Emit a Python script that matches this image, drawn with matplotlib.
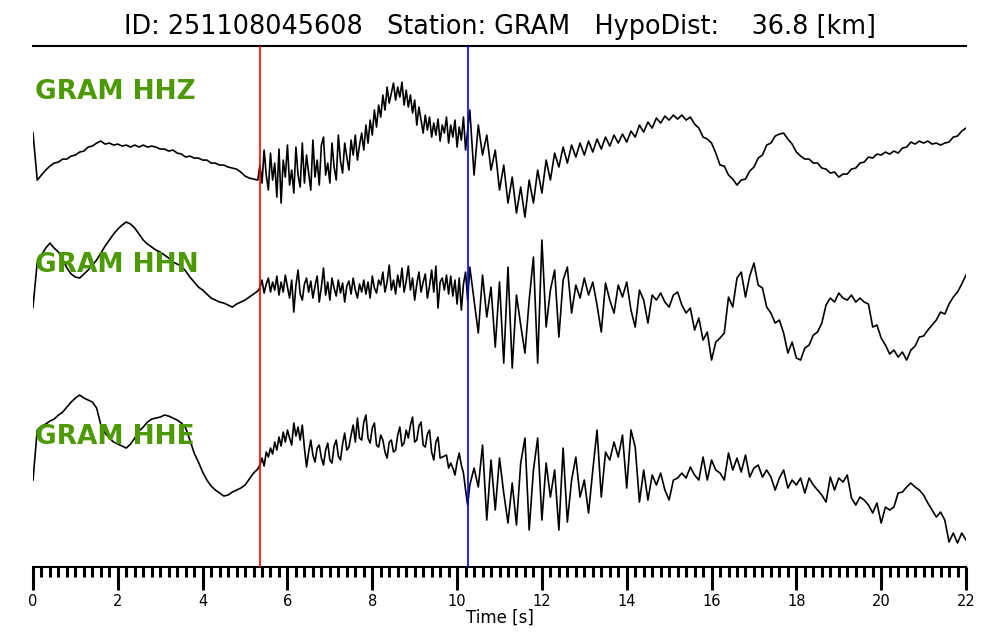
import numpy as np
import matplotlib
matplotlib.use("Agg")
import matplotlib.pyplot as plt
from matplotlib.ticker import MultipleLocator

# --- data (amplitude in display units) ---
event_id = "251108045608"
station = "GRAM"
hypo_dist = 36.8
channels = ["HHZ", "HHN", "HHE"]
p_pick = 5.35   # red
s_pick = 10.26  # blue

# each trace in three pieces: 0.0-5.3 s every 0.1 s, 5.35-10.30 s every 0.05 s,
# 10.4-22.0 s every 0.1 s
hhz_early = [
    22, -25, -20, -15, -11, -8, -7, -4, -4, -1,
    0, 3, 4, 8, 9, 12, 14, 11, 12, 10,
    11, 9, 10, 8, 10, 8, 10, 8, 9, 8,
    6, 6, 4, 5, 2, 1, -2, -1, -3, -3,
    -5, -5, -8, -8, -10, -10, -12, -13, -14, -17,
    -21, -23, -24, -25,
]
hhz_mid = [
    -10, -28, 5, -20, -35, 2, -25, -8, -42, 6,
    -48, -5, -22, 10, -30, -15, -38, 8, -20, -32,
    12, -28, 0, -18, -35, 15, -22, -5, -30, 10,
    18, -20, -8, -28, 12, -12, -25, 20, -6, -18,
    12, -2, -15, 15, 0, 20, -5, 10, 22, 5,
    30, 12, 35, 20, 45, 28, 50, 38, 60, 45,
    68, 52, 62, 72, 55, 68, 58, 73, 50, 65,
    48, 60, 42, 55, 30, 48, 35, 22, 40, 25,
    38, 18, 32, 20, 36, 14, 30, 22, 38, 12,
    30, 18, 35, 8, 28, 15, 38, 5, 25, 45,
]
hhz_late = [
    -20, 30, 0, 20, -15, 5,
    -35, -10, -48, -22, -58, -32, -62, -25, -48, -15,
    -38, -5, -25, 2, -12, 8, -8, 10, -2, 12,
    0, 14, 3, 16, 6, 18, 9, 20, 12, 21,
    13, 24, 18, 30, 23, 33, 27, 37, 32, 39,
    35, 40, 36, 40, 35, 38, 31, 27, 18, 16,
    12, 2, -10, -11, -20, -24, -30, -25, -24, -16,
    -12, -3, 0, 10, 12, 19, 21, 22, 16, 11,
    3, -1, -4, -4, -8, -8, -13, -14, -18, -17,
    -22, -19, -19, -14, -13, -8, -7, -2, -3, 1,
    0, 3, 1, 4, 2, 7, 8, 13, 11, 14,
    12, 14, 11, 12, 10, 12, 13, 18, 19, 24,
    27,
]

hhn_early = [
    -17, 28, 35, 42, 47, 42, 38, 31, 22, 16,
    13, 12, 16, 20, 25, 30, 37, 44, 50, 56,
    61, 65, 68, 66, 62, 56, 50, 46, 43, 40,
    38, 35, 32, 28, 26, 24, 19, 13, 8, 3,
    0, -4, -8, -10, -12, -13, -15, -17, -14, -12,
    -10, -7, -4, -1,
]
hhn_mid = [
    2, 10, -3, 6, 12, -2, 8, 0, 14, -5,
    8, -2, 15, 3, -8, 10, -22, 5, 20, -4,
    -10, 6, 12, -2, 9, -8, 4, 14, -12, 3,
    22, -5, 8, -10, 12, 2, -6, 10, -3, 7,
    -12, 4, 9, -4, 12, 0, -8, 6, -2, 10,
    -4, 8, -8, 14, 2, -3, 10, 5, 18, -2,
    8, 25, 0, 10, -4, 15, 3, 22, -2, 9,
    24, 0, 12, -10, 6, 18, -2, 8, 16, -8,
    4, 20, -2, 24, -18, 8, 12, 0, 15, -4,
    14, -6, 10, -14, 12, -20, 6, 18, -10, 23,
]
hhn_late = [
    -10, -43, 15, -27, 3, -57,
    8, -73, 23, -78, -5, -35, -63, -10, 33, -73,
    50, -37, 0, 20, -47, 10, 23, -23, 5, -8,
    12, -5, 8, -15, -42, 7, -10, -23, 5, -7,
    8, -20, -37, 0, -10, -33, -5, -10, -3, -12,
    -17, -5, -2, -15, -23, -18, -40, -28, -50, -42,
    -70, -52, -48, -43, -7, -17, 12, 18, -7, 14,
    27, 5, 2, -17, -23, -33, -30, -43, -63, -52,
    -68, -70, -58, -55, -45, -42, -33, -15, -8, -12,
    -3, -8, -10, -5, -12, -8, -12, -14, -37, -35,
    -48, -55, -64, -60, -67, -62, -70, -60, -56, -47,
    -46, -40, -35, -30, -22, -24, -14, -7, -2, 6,
    15,
]

hhe_early = [
    -20, 30, 34, 36, 39, 41, 45, 48, 53, 58,
    62, 65, 62, 60, 58, 52, 35, 27, 22, 18,
    16, 14, 12, 16, 22, 29, 33, 38, 41, 42,
    43, 45, 44, 42, 40, 37, 32, 20, 7, -2,
    -12, -20, -26, -30, -33, -36, -35, -32, -30, -28,
    -25, -19, -13, -9,
]
hhe_mid = [
    -5, 2, -6, 8, 3, 12, 6, 18, 10, 23,
    14, 28, 18, 30, 22, 15, 37, 24, 33, 20,
    35, 12, -7, 8, 20, 5, -2, 12, 15, 2,
    -5, 10, 17, 0, -3, 14, 20, 4, 0, 16,
    27, 10, 13, 25, 35, 18, 42, 22, 20, 38,
    45, 22, 17, 32, 37, 15, 13, 25, 20, 8,
    2, 18, 20, 8, 10, 25, 33, 14, 17, 30,
    22, 35, 43, 18, 20, 34, 38, 15, 13, 26,
    30, 8, 0, 18, 23, 2, 3, 4, 5, -8,
    -3, -8, -15, -2, 7, -5, -13, -30, -45, -25,
]
hhe_late = [
    -8, -27, 15, -60, 0, -50,
    2, -33, -63, -23, -65, -3, 22, -70, -10, 22,
    -60, -3, -37, -10, -70, 12, -62, -20, 3, -37,
    -20, -53, -10, 30, -37, 8, 0, 18, 3, 25,
    -28, 30, 13, -42, -10, -40, -15, -25, -13, -30,
    -40, -20, -18, -13, -18, -7, -15, -20, 3, -20,
    0, -10, -13, -20, 7, -10, 2, -12, 5, -17,
    -8, -5, -17, -10, -17, -30, -18, -10, -28, -20,
    -25, -18, -33, -18, -25, -30, -35, -42, -17, -30,
    -18, -22, -15, -38, -45, -37, -40, -45, -53, -43,
    -63, -47, -50, -47, -33, -32, -27, -23, -27, -30,
    -35, -43, -50, -57, -52, -60, -82, -73, -83, -73,
    -80,
]

traces = [
    (hhz_early, hhz_mid, hhz_late),
    (hhn_early, hhn_mid, hhn_late),
    (hhe_early, hhe_mid, hhe_late),
]
# trace baselines and label rows, measured downward from the top spine
baselines = [109, 244, 414]
label_rows = [46, 219, 391]
label_color = "#4e9a06"


def stitch(early, mid, late):
    t = np.concatenate([
        np.arange(len(early)) * 0.1,
        5.35 + np.arange(len(mid)) * 0.05,
        10.4 + np.arange(len(late)) * 0.1,
    ])
    a = np.array(early + mid + late, dtype=float)
    return t, a


fig = plt.figure(figsize=(10, 6.4), dpi=100)
ax = fig.add_axes([0.033, 0.114, 0.933, 0.814])

for parts, base in zip(traces, baselines):
    t, amp = stitch(*parts)
    ax.plot(t, base - amp, color="black", lw=1.2, zorder=2)

for ch, row in zip(channels, label_rows):
    ax.text(0.05, row, f"{station} {ch}", color=label_color, fontsize=19,
            fontweight="bold", ha="left", va="center", zorder=4)

ax.axvline(p_pick, color="red", lw=1.2, zorder=3)
ax.axvline(s_pick, color="blue", lw=1.2, zorder=3)

ax.set_xlim(0, 22)
ax.set_ylim(521, 0)

ax.spines["left"].set_visible(False)
ax.spines["right"].set_visible(False)
ax.spines["top"].set_linewidth(1.5)
ax.spines["bottom"].set_linewidth(1.5)

ax.xaxis.set_major_locator(MultipleLocator(2))
ax.xaxis.set_minor_locator(MultipleLocator(0.2))
ax.tick_params(axis="x", which="major", direction="out", length=16.5, width=2.2,
               labelsize=10.5, pad=3)
ax.tick_params(axis="x", which="minor", direction="out", length=7, width=2.2)
ax.set_yticks([])
ax.set_xlabel("Time [s]", fontsize=12, labelpad=0)

ax.set_title(f"ID: {event_id}   Station: {station}   HypoDist:    {hypo_dist:.1f} [km]",
             fontsize=18.4, pad=9)

fig.savefig("out.png", dpi=100)
